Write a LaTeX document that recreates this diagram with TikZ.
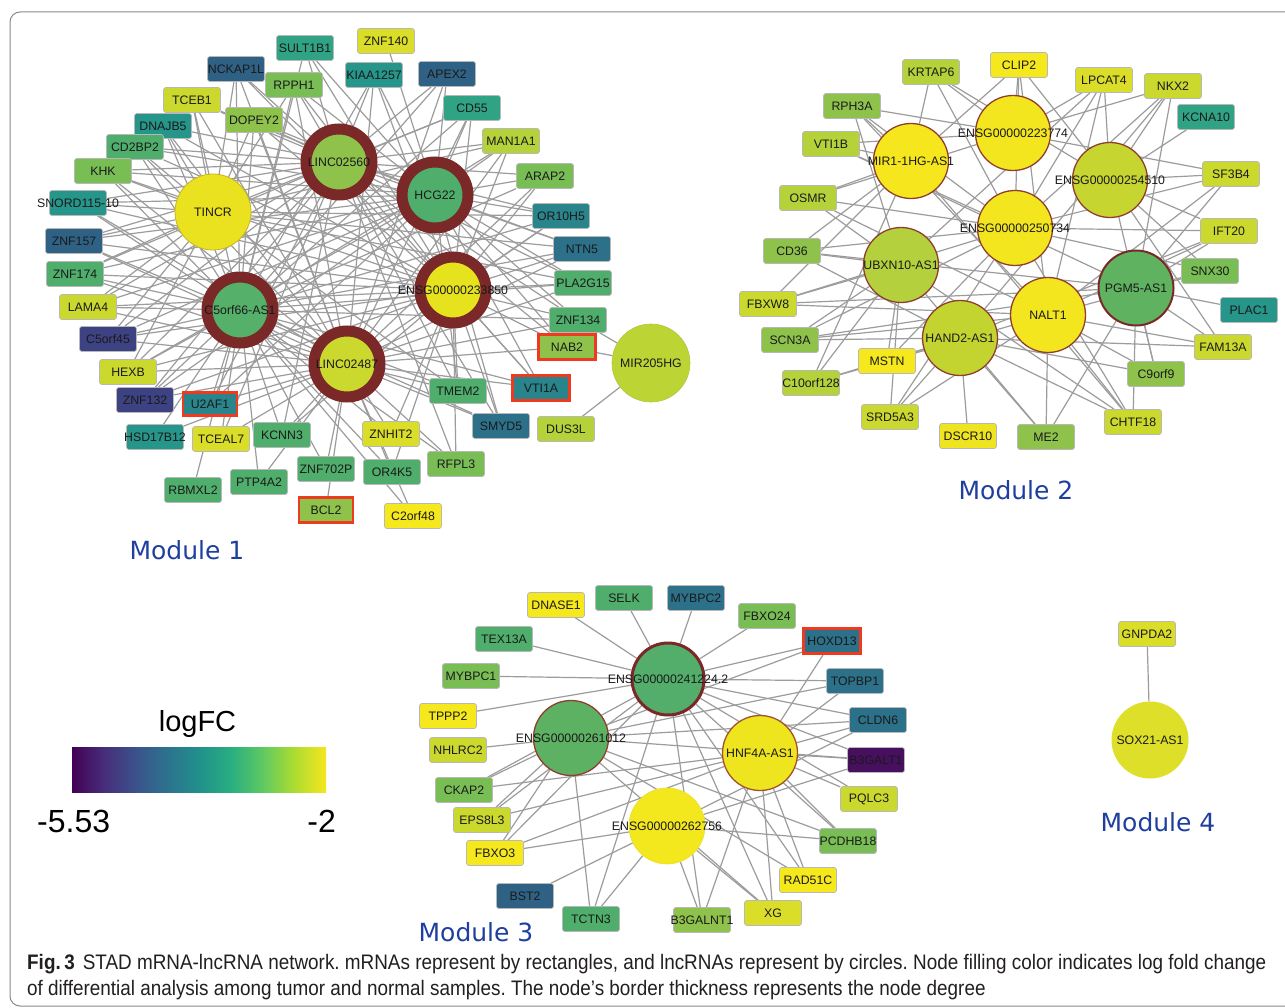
\documentclass[tikz,border=0pt]{standalone}
\usepackage{fontspec}
\setmainfont{Liberation Sans}
\newfontfamily\modfont{DejaVu Sans}
\newfontfamily\capfont[FakeStretch=0.9]{Liberation Sans}
\definecolor{v1}{HTML}{46105E}
\definecolor{v2}{HTML}{3D4283}
\definecolor{v3}{HTML}{2F6185}
\definecolor{v4}{HTML}{2C7089}
\definecolor{v5}{HTML}{29858B}
\definecolor{v6}{HTML}{26958A}
\definecolor{v7}{HTML}{30A384}
\definecolor{v8}{HTML}{4FAE6C}
\definecolor{v9}{HTML}{79BD55}
\definecolor{v10}{HTML}{8EC24B}
\definecolor{v11}{HTML}{B5D23B}
\definecolor{v12}{HTML}{CBD92F}
\definecolor{v13}{HTML}{DADE28}
\definecolor{v14}{HTML}{EEE41F}
\definecolor{v15}{HTML}{F5E81C}
\definecolor{ringc}{HTML}{7A2828}
\definecolor{brownc}{HTML}{8E3E2C}
\definecolor{hilc}{HTML}{EE3B1F}
\definecolor{edgec}{HTML}{9C9C9C}
\definecolor{txtc}{HTML}{1A1A1A}
\definecolor{modc}{HTML}{1F3F9F}
\definecolor{capc}{HTML}{231F20}
\definecolor{framec}{HTML}{8A8A8A}
\definecolor{vA}{HTML}{440154}
\definecolor{vB}{HTML}{472D7B}
\definecolor{vC}{HTML}{3B528B}
\definecolor{vD}{HTML}{2C728E}
\definecolor{vE}{HTML}{21918C}
\definecolor{vF}{HTML}{28AE80}
\definecolor{vG}{HTML}{5EC962}
\definecolor{vH}{HTML}{ADDC30}
\definecolor{vI}{HTML}{F5E61E}
\pgfdeclarehorizontalshading{viridis}{100bp}{color(0bp)=(vA); color(25bp)=(vA); color(31.25bp)=(vB); color(37.5bp)=(vC); color(43.75bp)=(vD); color(50bp)=(vE); color(56.25bp)=(vF); color(62.5bp)=(vG); color(68.75bp)=(vH); color(75bp)=(vI); color(100bp)=(vI)}
\pgfdeclarelayer{bg}
\pgfdeclarelayer{edges}
\pgfsetlayers{bg,edges,main}
\newcommand\nodefnt{\fontsize{12.3}{14}\selectfont}
\frenchspacing
\begin{document}
\begin{tikzpicture}[x=1pt,y=-1pt,
  mr/.style={rectangle, rounded corners=2.5pt, minimum width=57pt, minimum height=25pt, inner sep=0pt, draw=black!28, line width=0.7pt, label={[lbl]center:#1}},
  hil/.style={draw=hilc, line width=2.6pt, sharp corners},
  lbl/.style={font=\nodefnt, text=txtc, inner sep=0pt},
  lnc/.style={circle, inner sep=0pt, label={[lbl]center:#1}},
  ring/.style={draw=ringc, line width=11pt, minimum size=66pt},
  thinb/.style={draw=brownc, line width=1.3pt, minimum size=75pt},
  lnk/.style={draw=edgec, line width=1.2pt},
  modlab/.style={font=\modfont\fontsize{25}{28}\selectfont, text=modc, anchor=base, inner sep=0pt},
]
\useasboundingbox (0,0) rectangle (1285,1008);
\begin{pgfonlayer}{bg}
\fill[white] (0,0) rectangle (1285,1008);
\draw[framec, line width=1pt, rounded corners=10pt] (10,12) rectangle (1300,1006);
\end{pgfonlayer}

% ---------------- Module 1 ----------------
\node[lnc=LINC02560, ring, fill=v10] (linca) at (339,162) {};
\node[lnc=HCG22, ring, fill=v8] (hcg) at (435,195) {};
\node[lnc=ENSG00000233850, ring, fill={rgb,255:red,230;green,226;blue,30}] (ensa) at (453,290) {};
\node[lnc=C5orf66-AS1, ring, fill={rgb,255:red,85;green,176;blue,106}] (c5as) at (240,310) {};
\node[lnc=LINC02487, ring, fill=v12] (lincb) at (347,364) {};
\node[lnc=TINCR, minimum size=76pt, draw={rgb,255:red,200;green,180;blue,40}, line width=0.8pt, fill={rgb,255:red,234;green,226;blue,30}] (tincr) at (213,212) {};
\node[lnc=MIR205HG, minimum size=78pt, draw={rgb,255:red,180;green,200;blue,60}, line width=0.6pt, fill={rgb,255:red,189;green,212;blue,53}] (mir) at (651,363) {};

\foreach \nm/\lab/\px/\py/\col in {
 sult/SULT1B1/305/48/v7, znfa/ZNF140/386/41/v13, nckap/NCKAP1L/236/69/v3,
 kiaa/KIAA1257/374/75/v6, apex/APEX2/447/74/v3, rpph/RPPH1/294/85/v9,
 tceb/TCEB1/192/100/v12, dopey/DOPEY2/254/120/v10, dnaj/DNAJB5/163/126/v6,
 cdff/CD55/472/108/v7, cdbp/CD2BP2/135/147/v8, man/MAN1A1/511/141/v11,
 khk/KHK/103/171/v9, arap/ARAP2/545/176/v9, snord/SNORD115-10/78/203/v6,
 orh/OR10H5/561/216/v5, znfb/ZNF157/74/241/v3, ntn/NTN5/582/249/v4,
 znfc/ZNF174/75/274/v8, pla/PLA2G15/583/283/v8, lama/LAMA4/88/307/v12,
 znfd/ZNF134/578/320/v8, cfive/C5orf45/108/339/v2, hexb/HEXB/128/372/v12,
 znfe/ZNF132/145/400/v2, tmem/TMEM2/458/391/v8, smyd/SMYD5/501/426/v4,
 dus/DUS3L/566/429/v11, hsd/HSD17B12/155/437/v6, tceal/TCEAL7/221/439/v13,
 kcnn/KCNN3/282/435/v8, znhit/ZNHIT2/391/434/v13, znff/ZNF702P/326/469/v8,
 ork/OR4K5/392/472/v8, rfpl/RFPL3/456/464/v9, rbm/RBMXL2/193/490/v8,
 ptp/PTP4A2/259/482/v8, ctwo/C2orf48/413/516/v15}
 {\node[mr=\lab, fill=\col] (\nm) at (\px,\py) {};}
\node[mr=NAB2, fill=v10, hil] (nab) at (567,347) {};
\node[mr=VTI1A, fill=v5, hil] (vti) at (541,388) {};
\node[mr=U2AF1, fill=v5, hil, minimum width=54pt, minimum height=23pt] (uaf) at (210,404) {};
\node[mr=BCL2, fill=v10, hil, minimum width=54pt] (bcl) at (326,510) {};

\begin{pgfonlayer}{edges}
\foreach \src/\tgts in {
 sult/{linca,ensa,hcg,c5as}, znfa/{hcg}, nckap/{linca,c5as,ensa,tincr,lincb},
 kiaa/{linca,hcg,ensa,lincb,c5as}, apex/{linca,c5as,hcg,lincb},
 rpph/{linca,c5as,tincr,ensa,lincb,hcg}, tceb/{tincr,c5as,linca,lincb,hcg},
 dopey/{linca,tincr,c5as,ensa,lincb,hcg}, dnaj/{tincr,c5as,linca,lincb,ensa},
 cdff/{linca,hcg,ensa,c5as,lincb,tincr}, cdbp/{tincr,c5as,linca,lincb,hcg,ensa},
 man/{linca,hcg,ensa,c5as,lincb,tincr}, khk/{tincr,c5as,linca,lincb,ensa,hcg},
 arap/{hcg,ensa,linca,lincb,c5as}, snord/{tincr,c5as,linca,lincb,ensa,hcg},
 orh/{hcg,ensa,linca,lincb,c5as,tincr}, znfb/{tincr,c5as,linca,lincb,ensa,hcg},
 ntn/{hcg,ensa,linca,lincb,c5as,tincr}, znfc/{tincr,c5as,linca,lincb,hcg,ensa},
 pla/{ensa,hcg,linca,lincb,c5as,tincr}, lama/{c5as,tincr,linca,lincb,ensa,hcg},
 znfd/{ensa,hcg,lincb,mir,linca,c5as}, cfive/{c5as,tincr,linca,lincb,ensa,hcg},
 nab/{ensa,lincb,mir,hcg,linca}, hexb/{c5as,lincb,tincr,linca,ensa,hcg},
 vti/{ensa,lincb,hcg,linca,c5as}, znfe/{c5as,lincb,linca,ensa,hcg},
 uaf/{c5as,lincb,linca,hcg}, tmem/{ensa,lincb,hcg,c5as,linca,tincr},
 smyd/{ensa,lincb,hcg,linca,c5as}, dus/{mir}, hsd/{c5as,lincb},
 tceal/{c5as,lincb,linca}, kcnn/{c5as,lincb,linca,ensa},
 znhit/{lincb,ensa,c5as}, znff/{lincb,c5as}, ork/{lincb,c5as,ensa},
 rfpl/{ensa,lincb,linca,c5as}, rbm/{c5as}, ptp/{c5as,lincb},
 bcl/{lincb}, ctwo/{lincb,c5as}}
 {\foreach \tg in \tgts {\draw[lnk] (\src) -- (\tg);}}
\end{pgfonlayer}

\node[modlab] (mod1) at (187,559) {Module 1};

% ---------------- Module 2 ----------------
\node[lnc=ENSG00000223774, thinb, fill={rgb,255:red,243;green,229;blue,30}] (eb) at (1013,133) {};
\node[lnc=MIR1-1HG-AS1, thinb, fill={rgb,255:red,245;green,230;blue,30}] (mira) at (911,161) {};
\node[lnc=ENSG00000254510, thinb, fill={rgb,255:red,198;green,213;blue,48}] (ec) at (1110,180) {};
\node[lnc=ENSG00000250734, thinb, fill={rgb,255:red,243;green,229;blue,30}] (ed) at (1015,228) {};
\node[lnc=UBXN10-AS1, thinb, fill={rgb,255:red,180;green,208;blue,60}] (ubx) at (901,265) {};
\node[lnc=PGM5-AS1, thinb, draw=ringc, line width=2pt, fill={rgb,255:red,95;green,178;blue,95}] (pgm) at (1136,288) {};
\node[lnc=NALT1, thinb, fill={rgb,255:red,243;green,229;blue,30}] (nalt) at (1048,315) {};
\node[lnc=HAND2-AS1, thinb, fill={rgb,255:red,195;green,212;blue,49}] (hand) at (960,338) {};

\foreach \nm/\lab/\px/\py/\col in {
 krtap/KRTAP6/931/72/v11, clip/CLIP2/1019/65/v15, lpcat/LPCAT4/1104/80/v13,
 nkx/NKX2/1173/86/v12, rph/RPH3A/852/106/v10, kcna/KCNA10/1206/117/v7,
 vtib/VTI1B/831/144/v11, sfb/SF3B4/1231/174/v12, osmr/OSMR/808/198/v11,
 ift/IFT20/1229/231/v12, cdts/CD36/792/251/v10, snx/SNX30/1210/271/v9,
 fbxw/FBXW8/768/304/v12, plac/PLAC1/1249/310/v6, scn/SCN3A/790/340/v10,
 fam/FAM13A/1223/347/v12, mstn/MSTN/887/361/v15, cten/C10orf128/811/383/v11,
 cnine/C9orf9/1156/374/v10, srd/SRD5A3/890/417/v12, dscr/DSCR10/968/436/v14,
 metwo/ME2/1046/437/v10, chtf/CHTF18/1133/422/v12}
 {\node[mr=\lab, fill=\col] (\nm) at (\px,\py) {};}

\begin{pgfonlayer}{edges}
\foreach \src/\tgts in {
 krtap/{eb,ed,ec,mira}, clip/{eb,ec,ed,mira,nalt}, lpcat/{ec,eb,ed,ubx,nalt},
 nkx/{ec,ed,eb,pgm,hand}, rph/{mira,eb,ed,ubx,nalt}, kcna/{ec},
 vtib/{mira,eb,ed,pgm}, sfb/{ec,eb,pgm,ed,nalt}, osmr/{mira,ubx,ed,nalt,eb},
 ift/{ec,pgm,ed,nalt,hand}, cdts/{ubx,mira,ed,hand,pgm}, snx/{pgm,ec,nalt,ed},
 fbxw/{ubx,mira,ed,nalt,pgm}, plac/{pgm}, scn/{ubx,hand,nalt,ed,pgm},
 fam/{pgm,nalt,ec,hand}, mstn/{hand,ubx,ed}, cten/{ubx,hand,mira,nalt},
 cnine/{pgm,nalt,hand,ec}, srd/{hand,ubx,ed,nalt}, dscr/{hand},
 metwo/{nalt,hand,pgm,ubx}, chtf/{nalt,pgm,hand,ubx,ed,mira}}
 {\foreach \tg in \tgts {\draw[lnk] (\src) -- (\tg);}}
\end{pgfonlayer}

\node[modlab] (mod2) at (1016,499) {Module 2};

% ---------------- Module 3 ----------------
\node[lnc=ENSG00000241224.2, minimum size=72pt, draw=ringc, line width=3pt, fill={rgb,255:red,82;green,174;blue,106}] (ea) at (668,679) {};
\node[lnc=ENSG00000261012, thinb, fill={rgb,255:red,92;green,177;blue,99}] (ee) at (571,738) {};
\node[lnc=HNF4A-AS1, thinb, draw={rgb,255:red,160;green,82;blue,45}, fill={rgb,255:red,239;green,229;blue,30}] (hnf) at (760,753) {};
\node[lnc=ENSG00000262756, minimum size=76pt, draw={rgb,255:red,235;green,225;blue,40}, line width=0.6pt, fill={rgb,255:red,243;green,231;blue,30}] (ef) at (667,826) {};

\foreach \nm/\lab/\px/\py/\col in {
 dnase/DNASE1/556/605/v15, selk/SELK/624/598/v8, mybb/MYBPC2/696/598/v4,
 fbxtf/FBXO24/767/616/v9, tex/TEX13A/504/639/v8, topb/TOPBP1/855/681/v4,
 myba/MYBPC1/471/676/v9, tppp/TPPP2/448/716/v15, cldn/CLDN6/878/720/v4,
 nhl/NHLRC2/458/750/v12, bgalt/B3GALT1/876/760/v1, ckap/CKAP2/464/790/v9,
 pqlc/PQLC3/869/799/v12, eps/EPS8L3/482/820/v12, pcdh/PCDHB18/848/841/v9,
 fbxt/FBXO3/495/853/v15, rad/RAD51C/808/880/v15, bst/BST2/525/896/v3,
 tctn/TCTN3/591/919/v8, bgalnt/B3GALNT1/702/920/v10, xg/XG/773/913/v13}
 {\node[mr=\lab, fill=\col] (\nm) at (\px,\py) {};}
\node[mr=HOXD13, fill=v4, hil] (hox) at (832,641) {};

\begin{pgfonlayer}{edges}
\foreach \src/\tgts in {
 dnase/{ea}, selk/{ea}, mybb/{ea}, fbxtf/{ea}, tex/{ea}, myba/{ea}, tppp/{ea},
 hox/{ea,ee,hnf}, topb/{ea,ee,hnf}, cldn/{ea,ee,hnf,ef}, bgalt/{ea,ee,hnf,ef},
 nhl/{ee}, ckap/{ee,ea,hnf}, pqlc/{hnf,ea}, eps/{ee,ea,hnf},
 pcdh/{hnf,ea,ee,ef}, fbxt/{ee,ef,hnf,ea}, rad/{ee,hnf,ea}, bst/{ef},
 tctn/{ee,ef,ea}, bgalnt/{ef,hnf,ea}, xg/{hnf,ef,ee,ea}}
 {\foreach \tg in \tgts {\draw[lnk] (\src) -- (\tg);}}
\end{pgfonlayer}

\node[modlab] (mod3) at (476,941) {Module 3};

% ---------------- Module 4 ----------------
\node[mr=GNPDA2, fill=v13] (gnp) at (1147,634) {};
\node[lnc=SOX21-AS1, minimum width=77pt, minimum height=77pt, fill={rgb,255:red,222;green,223;blue,40}] (sox) at (1150,740) {};
\begin{pgfonlayer}{edges}
\draw[lnk] (gnp) -- (sox);
\end{pgfonlayer}
\node[modlab] (mod4) at (1158,831) {Module 4};

% ---------------- Legend ----------------
\node[anchor=base, inner sep=0pt, font=\fontsize{29}{32}\selectfont, text=black] (lfc) at (197.5,731) {logFC};
\node[shading=viridis, minimum width=254pt, minimum height=45pt, inner sep=0pt] (bar) at (199,769.5) {};
\node[anchor=base west, inner sep=0pt, font=\fontsize{32}{36}\selectfont, text=black] (lmin) at (37,832) {-5.53};
\node[anchor=base east, inner sep=0pt, font=\fontsize{32}{36}\selectfont, text=black] (lmax) at (336,832) {-2};

% ---------------- Caption ----------------
\node[anchor=base west, inner sep=0pt, font=\capfont\fontsize{21}{24}\selectfont, text=capc] (capa) at (27,969)
 {{\bfseries Fig.\,3}\hspace{8pt}STAD mRNA-lncRNA network. mRNAs represent by rectangles, and lncRNAs represent by circles. Node filling color indicates log fold change};
\node[anchor=base west, inner sep=0pt, font=\capfont\fontsize{21}{24}\selectfont, text=capc] (capb) at (27,995)
 {of differential analysis among tumor and normal samples. The node’s border thickness represents the node degree};
\end{tikzpicture}
\end{document}
